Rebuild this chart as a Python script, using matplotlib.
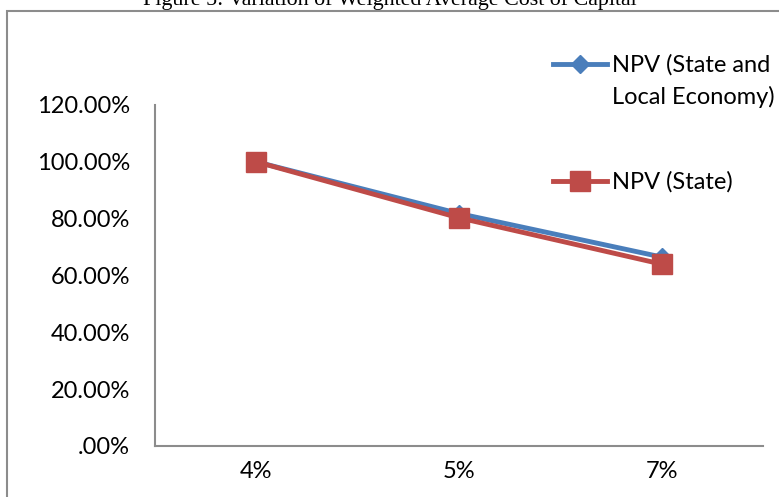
import numpy as np
import matplotlib.pyplot as plt
from matplotlib.patches import Rectangle
from matplotlib.lines import Line2D
from matplotlib.ticker import FuncFormatter

# discount rate categories and NPV as a share of the 4% case
rates = ["4%", "5%", "7%"]
npv_state_local = [1.00, 0.818, 0.665]
npv_state = [1.00, 0.803, 0.640]
series_names = ["NPV (State and\nLocal Economy)", "NPV (State)"]

plt.rcParams['font.family'] = ['Lato', 'DejaVu Sans']

W, H = 779, 497
fig = plt.figure(figsize=(W / 100, H / 100), dpi=100)

def fx(px):
    return px / W

def fy(py):
    return 1 - py / H

# caption above the chart box (partly clipped at the top)
fig.text(0.5, fy(5), "Figure 5: Variation of Weighted Average Cost of Capital",
         ha="center", va="baseline", fontsize=15.8, family="Liberation Serif")

# outer chart frame
fig.patches.append(Rectangle((fx(7), -0.1), 1.0, fy(11) + 0.1,
                             transform=fig.transFigure, fill=False,
                             edgecolor="#8c8c8c", linewidth=1.5))

ax = fig.add_axes([fx(155), fy(446), fx(763 - 155), (446 - 105) / H])

colors = ["#4a7ebb", "#be4b48"]
markers = ["D", "s"]
msizes = [9, 14]

x = np.arange(len(rates)) + 0.5
for vals, c, m, ms, name in zip([npv_state_local, npv_state], colors, markers,
                                msizes, series_names):
    ax.plot(x, vals, color=c, linewidth=3.5, marker=m, markersize=ms, label=name)

ax.set_xlim(0, 3)
ax.set_ylim(0, 1.2)
ax.set_xticks(x)
ax.set_xticklabels(rates)
ax.set_yticks(np.arange(0, 1.21, 0.2))
ax.yaxis.set_major_formatter(FuncFormatter(
    lambda v, p: ".00%" if v == 0 else "{:.2f}%".format(v * 100)))
ax.tick_params(axis="both", length=0, labelsize=17)
ax.tick_params(axis="y", pad=18)
ax.tick_params(axis="x", pad=11)

for side in ["top", "right"]:
    ax.spines[side].set_visible(False)
for side in ["left", "bottom"]:
    ax.spines[side].set_color("#8c8c8c")
    ax.spines[side].set_linewidth(1.5)

# legend drawn by hand: handle sits on the first line of each label
for ypx, c, m, ms, name in zip([64, 181], colors, markers, msizes, series_names):
    fig.add_artist(Line2D([fx(553), fx(580), fx(607)], [fy(ypx)] * 3,
                          transform=fig.transFigure, color=c, linewidth=3.5,
                          marker=m, markersize=ms, markevery=[1]))
    fig.text(fx(612), fy(ypx - 10), name, ha="left", va="top", fontsize=17,
             linespacing=1.55, transform=fig.transFigure)

fig.savefig("out.png", dpi=100)
